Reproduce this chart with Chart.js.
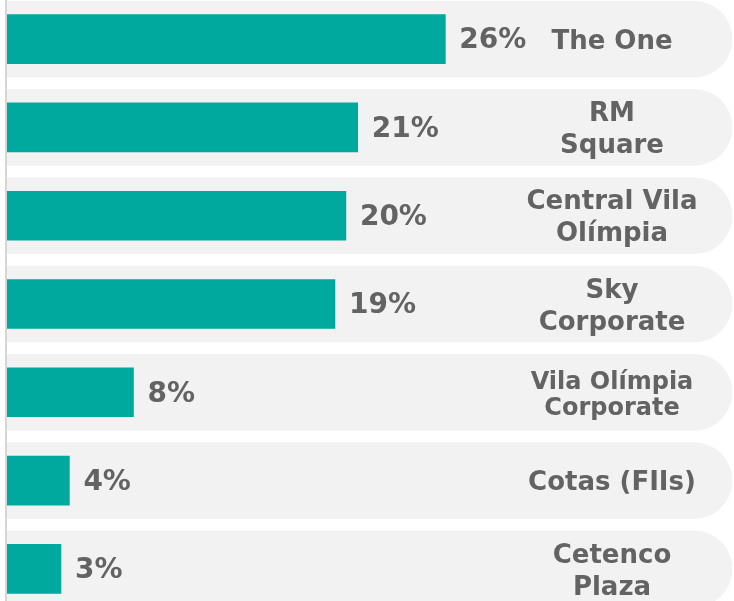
<!DOCTYPE html>
<html lang="pt">
<head>
  <meta charset="UTF-8">
  <title>Participação por ativo</title>
  <script src="https://cdn.jsdelivr.net/npm/chart.js@4.4.0/dist/chart.umd.min.js"></script>
  <style>
    html, body { margin: 0; padding: 0; background: #fff; overflow: hidden; }
    body { width: 734px; height: 601px; position: relative; }
    #wrap { position: absolute; left: 0; top: -5px; width: 734px; height: 618px; }
  </style>
</head>
<body>
  <div id="wrap"><canvas id="grafico" width="734" height="618"></canvas></div>

  <script>
    // dados
    const ativos = [
      ["The One"],
      ["RM", "Square"],
      ["Central Vila", "Olímpia"],
      ["Sky", "Corporate"],
      ["Vila Olímpia", "Corporate"],
      ["Cotas (FIIs)"],
      ["Cetenco", "Plaza"]
    ];
    const participacao = [26, 20.8, 20.1, 19.45, 7.5, 3.7, 3.2];
    const escalaMax = 43;
    const fundo = ativos.map(() => escalaMax);

    const corBarra = "#00a99d";
    const corFundo = "#f2f2f2";
    const corTexto = "#636363";

    const rotulos = {
      id: "rotulos",
      beforeDatasetsDraw(chart) {
        const ctx = chart.ctx;
        ctx.save();
        ctx.fillStyle = "#d6d6d6";
        ctx.fillRect(chart.chartArea.left - 2, 0, 2, chart.height);
        ctx.restore();
      },
      afterDatasetsDraw(chart) {
        const ctx = chart.ctx;
        const meta = chart.getDatasetMeta(1);
        ctx.save();
        ctx.fillStyle = corTexto;
        meta.data.forEach(function (bar, i) {
          // percentual
          ctx.font = "bold 28px 'DejaVu Sans'";
          ctx.textAlign = "left";
          ctx.textBaseline = "middle";
          ctx.fillText(Math.round(participacao[i]) + "%", bar.x + 14, bar.y + 2);

          // nome do ativo
          const linhas = chart.data.labels[i];
          const tam = i === 4 ? 24 : 26;
          const alt = i === 4 ? 26 : 32;
          ctx.font = "bold " + tam + "px 'DejaVu Sans'";
          ctx.textAlign = "center";
          let y = bar.y + 3 - (linhas.length - 1) * alt / 2;
          linhas.forEach(function (l) {
            ctx.fillText(l, 612, y);
            y += alt;
          });
        });
        ctx.restore();
      }
    };

    new Chart("grafico", {
      type: "bar",
      data: {
        labels: ativos,
        datasets: [{
          data: fundo,
          backgroundColor: corFundo,
          barThickness: 76,
          borderRadius: { topLeft: 0, bottomLeft: 0, topRight: 38, bottomRight: 38 },
          borderSkipped: false,
          grouped: false,
          order: 2
        }, {
          data: participacao,
          backgroundColor: corBarra,
          borderWidth: 0,
          barThickness: 49,
          grouped: false,
          order: 1
        }]
      },
      options: {
        indexAxis: "y",
        responsive: false,
        animation: false,
        layout: { padding: { left: 7, right: 2, top: 0, bottom: 0 } },
        scales: {
          x: { display: false, min: 0, max: escalaMax },
          y: { display: false }
        },
        plugins: {
          legend: { display: false },
          tooltip: { enabled: false }
        }
      },
      plugins: [rotulos]
    });
  </script>
</body>
</html>
